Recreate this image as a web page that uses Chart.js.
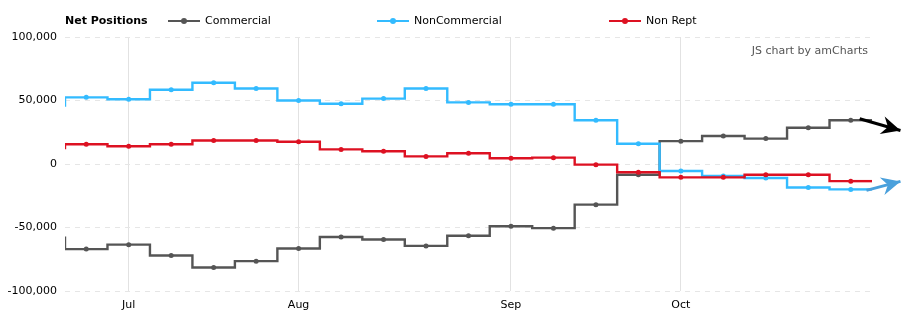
<!DOCTYPE html>
<html>
<head>
<meta charset="utf-8">
<title>Net Positions</title>
<script src="https://cdn.jsdelivr.net/npm/chart.js@4.4.1/dist/chart.umd.min.js"></script>
<style>
  body { margin: 0; background: #fff; font-family: "DejaVu Sans", Verdana, sans-serif; }
  #wrap { position: relative; width: 901px; height: 326px; }
  #legend { position: absolute; top: 13px; left: 0; width: 901px; height: 16px; font-size: 11px; color: #000; }
  .lg { position: absolute; top: 0; white-space: nowrap; line-height: 16px; }
  .lg.title { font-weight: bold; }
  .mk { display: inline-block; position: relative; width: 32px; height: 16px; vertical-align: top; margin-right: 5px; }
  .mk i { position: absolute; left: 0; right: 0; top: 7px; height: 2px; }
  .mk b { position: absolute; left: 13px; top: 5px; width: 6px; height: 6px; border-radius: 50%; }
  #credit { position: absolute; right: 33px; top: 44px; font-size: 11px; line-height: 14px; color: #555; }
</style>
</head>
<body>
<div id="wrap">
  <canvas id="chart"></canvas>
  <div id="legend"></div>
  <div id="credit">JS chart by amCharts</div>
</div>
<script>
// weekly report dates, first one sits just left of the visible range
const WEEKS = ['2014-06-20', '2014-06-27', '2014-07-04', '2014-07-11', '2014-07-18', '2014-07-25',
  '2014-08-01', '2014-08-08', '2014-08-15', '2014-08-22', '2014-08-29', '2014-09-05', '2014-09-12',
  '2014-09-19', '2014-09-26', '2014-10-03', '2014-10-10', '2014-10-17', '2014-10-24', '2014-10-31'];
const COMMERCIAL = [-58000, -67000, -63500, -72000, -81500, -76500, -66500, -57500, -59500, -64500,
  -56500, -49000, -50500, -32000, -8500, 18000, 22000, 20000, 28500, 34500];
const NONCOMMERCIAL = [46000, 52500, 51000, 58500, 64000, 59500, 50000, 47500, 51500, 59500,
  48500, 47000, 47000, 34500, 16000, -5500, -9500, -11000, -18500, -20000];
const NONREPT = [12500, 15500, 14000, 15500, 18500, 18500, 17500, 11500, 10000, 6000,
  8500, 4500, 5000, -500, -6500, -10500, -10500, -8500, -8500, -13500];
// trend arrows (x in week index units)
const TREND_COMM_X = [19.21, 20.17];
const TREND_COMM_Y = [35600, 26400];
const TREND_NONC_X = [19.37, 20.17];
const TREND_NONC_Y = [-20800, -13700];
const Y_TICKS = [-100000, -50000, 0, 50000, 100000];
const MONTHS = ['Jan','Feb','Mar','Apr','May','Jun','Jul','Aug','Sep','Oct','Nov','Dec'];

const SERIES = [
  { label: 'Commercial', values: COMMERCIAL, color: '#555555', order: 3 },
  { label: 'NonCommercial', values: NONCOMMERCIAL, color: '#33bbff', order: 2 },
  { label: 'Non Rept', values: NONREPT, color: '#dd1122', order: 1 }
];

// first week of each month gets a tick
const monthTicks = WEEKS.map((w, i) => ({ i, d: new Date(w + 'T00:00:00Z') }))
  .filter(o => o.d.getUTCDate() <= 7).map(o => o.i);

const xy = (xs, ys) => xs.map((x, i) => ({ x, y: ys[i] }));

const datasets = SERIES.map(s => ({
  label: s.label,
  data: s.values.map((v, i) => ({ x: i, y: v })),
  borderColor: s.color,
  backgroundColor: s.color,
  borderWidth: 2.4,
  stepped: 'middle',
  pointRadius: 2.5,
  pointBorderWidth: 0,
  pointHoverRadius: 2.5,
  order: s.order
}));
datasets.push(
  { label: 'trend-comm', data: xy(TREND_COMM_X, TREND_COMM_Y), borderColor: '#000000', borderWidth: 3,
    pointRadius: 0, clip: false, arrow: true, order: 0 },
  { label: 'trend-nonc', data: xy(TREND_NONC_X, TREND_NONC_Y), borderColor: '#4aa0dc', borderWidth: 3,
    pointRadius: 0, clip: false, arrow: true, order: 0 }
);

// amCharts step lines run the full width of the last category
const stepTail = {
  id: 'stepTail',
  afterDatasetDraw(chart, args) {
    const ds = chart.data.datasets[args.index];
    if (!ds.stepped) return;
    const pts = args.meta.data, last = pts[pts.length - 1];
    const ctx = chart.ctx;
    ctx.save();
    ctx.strokeStyle = ds.borderColor;
    ctx.lineWidth = ds.borderWidth;
    ctx.beginPath();
    ctx.moveTo(last.x, last.y);
    ctx.lineTo(chart.chartArea.right, last.y);
    ctx.stroke();
    ctx.restore();
  }
};

const arrowHead = {
  id: 'arrowHead',
  afterDatasetDraw(chart, args) {
    const ds = chart.data.datasets[args.index];
    if (!ds.arrow) return;
    const pts = args.meta.data;
    const a = pts[pts.length - 2], b = pts[pts.length - 1];
    const ctx = chart.ctx;
    ctx.save();
    ctx.translate(b.x, b.y);
    ctx.rotate(Math.atan2(b.y - a.y, b.x - a.x));
    ctx.fillStyle = ds.borderColor;
    ctx.beginPath();
    ctx.moveTo(0, 0);
    ctx.lineTo(-19, -9);
    ctx.lineTo(-13, 0);
    ctx.lineTo(-19, 9);
    ctx.closePath();
    ctx.fill();
    ctx.restore();
  }
};

Chart.defaults.font.family = '"DejaVu Sans", Verdana, sans-serif';
Chart.defaults.font.size = 11;
Chart.defaults.color = '#000';

new Chart(document.getElementById('chart'), {
  type: 'line',
  data: { datasets },
  options: {
    responsive: true,
    maintainAspectRatio: false,
    animation: false,
    events: [],
    layout: { padding: { top: 37, right: 29, left: 0, bottom: 0 } },
    plugins: { legend: { display: false }, tooltip: { enabled: false } },
    scales: {
      x: {
        type: 'linear',
        min: 0.5,
        max: WEEKS.length - 0.5,
        afterBuildTicks: s => { s.ticks = monthTicks.map(v => ({ value: v })); },
        afterFit: s => { s.height = 35; },
        ticks: {
          padding: 8,
          autoSkip: false,
          maxRotation: 0,
          callback: v => MONTHS[new Date(WEEKS[v] + 'T00:00:00Z').getUTCMonth()]
        },
        grid: { color: '#e2e2e2', drawTicks: false },
        border: { display: false }
      },
      y: {
        min: -100000,
        max: 100000,
        afterBuildTicks: s => { s.ticks = Y_TICKS.map(v => ({ value: v })); },
        afterFit: s => { s.width = 65; },
        ticks: { padding: 8, callback: v => v.toLocaleString('en-US') },
        grid: { color: '#e6e6e6', drawTicks: false },
        border: { display: false, dash: [5, 5] }
      }
    }
  },
  plugins: [stepTail, arrowHead]
});

// legend row like amCharts: bold title, then line+dot markers
const LEGEND_LEFT = [168, 377, 609];
const legend = document.getElementById('legend');
legend.innerHTML = '<div class="lg title" style="left:65px">Net Positions</div>' +
  SERIES.map((s, i) => `<div class="lg" style="left:${LEGEND_LEFT[i]}px">` +
    `<span class="mk"><i style="background:${s.color}"></i><b style="background:${s.color}"></b></span>${s.label}</div>`).join('');
</script>
</body>
</html>
